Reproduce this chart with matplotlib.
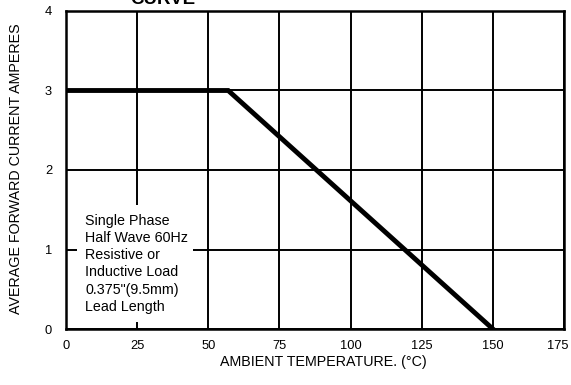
import matplotlib
matplotlib.use("Agg")
import matplotlib.pyplot as plt
from matplotlib.patches import Rectangle
from matplotlib.transforms import ScaledTranslation

plt.rcParams['font.family'] = ['Liberation Sans', 'DejaVu Sans']

# Data
temp = [0, 57, 150]
current = [3.0, 3.0, 0.0]
xticks = [0, 25, 50, 75, 100, 125, 150, 175]
yticks = [0, 1, 2, 3, 4]
note_lines = ["Single Phase", "Half Wave 60Hz", "Resistive or",
              "Inductive Load", "0.375\"(9.5mm)", "Lead Length"]

fig = plt.figure(figsize=(5.71, 3.85), dpi=100)
ax = fig.add_axes([66/571, 1 - 329/385, (564-66)/571, (329-11)/385])

ax.set_xlim(0, 175)
ax.set_ylim(0, 4)
ax.set_xticks(xticks)
ax.set_yticks(yticks)
ax.set_xticklabels([str(t) for t in xticks], fontsize=9.3)
ax.set_yticklabels([str(t) for t in yticks], fontsize=9.3)
ax.tick_params(axis='both', length=0)
ax.tick_params(axis='x', pad=8)
ax.tick_params(axis='y', pad=10)
# keep last x label inside the canvas
last = ax.get_xticklabels()[-1]
last.set_transform(last.get_transform() + ScaledTranslation(-6/100, 0, fig.dpi_scale_trans))

ax.grid(True, color='black', linewidth=1.4)
ax.set_axisbelow(True)
for s in ax.spines.values():
    s.set_linewidth(1.8)
    s.set_color('black')

# white note box covering grid
ax.add_patch(Rectangle((3.9, 0.09), 40.8, 1.47, facecolor='white',
                       edgecolor='none', zorder=1.5))
y0 = 1.36
for i, line in enumerate(note_lines):
    ax.text(6.7, y0 - i * 0.216, line, fontsize=10.3, va='center', ha='left',
            zorder=2)

ax.plot(temp, current, color='black', linewidth=3.5, zorder=3,
        solid_joinstyle='miter')

ax.set_xlabel("AMBIENT TEMPERATURE. (°C)", fontsize=10.3, va='center', ha='center')
ax.set_ylabel("AVERAGE FORWARD CURRENT AMPERES", fontsize=10.3, va='center', ha='center')
ax.xaxis.set_label_coords(0.517, -0.105)
ax.yaxis.set_label_coords(-0.10, 0.503)

fig.text(0.286, 1 - 4/385, "CURVE", fontsize=13.5, fontweight='bold',
         ha='center', va='baseline')

fig.savefig("out.png", dpi=100)
